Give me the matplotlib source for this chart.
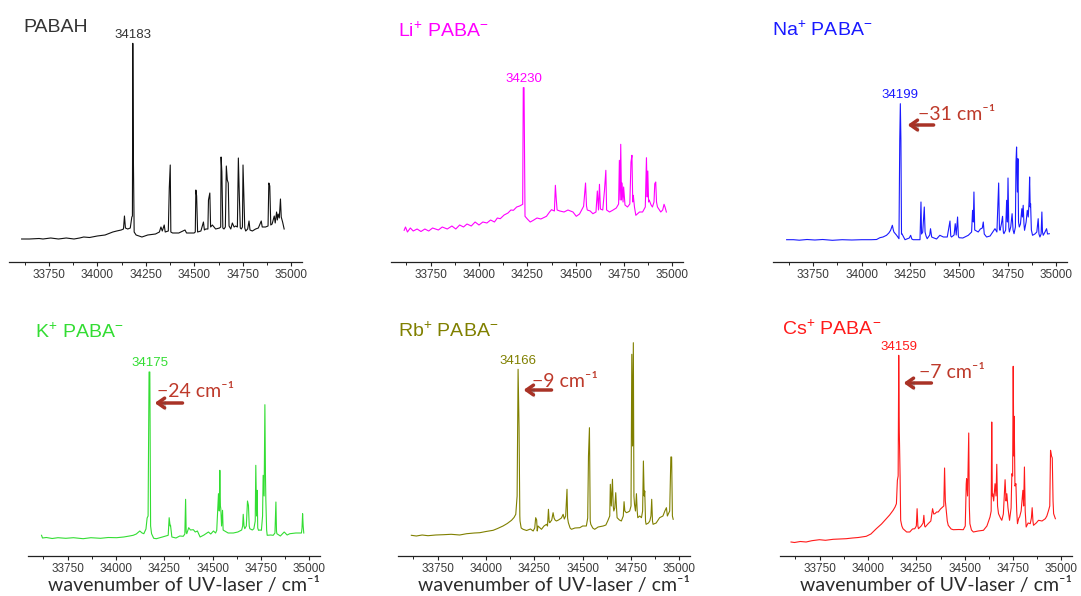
import matplotlib
matplotlib.use('Agg')
import matplotlib.pyplot as plt
import matplotlib.patheffects as pe
import numpy as np

# ---- data: (wavenumber / cm-1, signal a.u.) ----
pabah = [(33610, 23), (33650, 23), (33700, 23.5), (33720, 23), (33760, 24), (33800, 23), (33840, 24),
         (33880, 23), (33909, 24), (33930, 25), (33960, 24.5), (34000, 26), (34040, 27), (34080, 30),
         (34100, 31), (34123, 32), (34135, 33), (34140, 46), (34145, 34), (34157, 33), (34170, 34),
         (34178, 45), (34181, 46), (34183, 218.7), (34186, 105), (34190, 30), (34200, 27), (34230, 25),
         (34260, 27), (34300, 28), (34320, 30), (34328, 35), (34335, 31), (34345, 37), (34350, 30),
         (34366, 31), (34371, 74), (34376, 97), (34379, 30), (34388, 29), (34420, 29), (34452, 32),
         (34460, 29), (34499, 29), (34505, 30), (34508, 72), (34512, 66), (34517, 30), (34534, 31),
         (34547, 40), (34552, 32), (34559, 33), (34570, 33), (34573, 62), (34580, 69), (34584, 35),
         (34593, 37), (34610, 33), (34630, 34), (34636, 35), (34638, 105), (34642, 90), (34647, 34),
         (34653, 33), (34660, 35), (34665, 96), (34670, 82), (34675, 79), (34679, 36), (34688, 33),
         (34696, 39), (34705, 35), (34713, 36), (34722, 35), (34727, 104), (34732, 66), (34737, 34),
         (34742, 33), (34748, 35), (34751, 97), (34756, 62), (34760, 34), (34765, 31), (34775, 33),
         (34782, 41), (34787, 32), (34799, 31), (34816, 33), (34830, 34), (34845, 41), (34850, 35),
         (34867, 35), (34880, 36), (34884, 79), (34889, 76), (34894, 37), (34901, 38), (34912, 46),
         (34917, 39), (34924, 50), (34928, 42), (34932, 48), (34938, 44), (34944, 63), (34948, 45),
         (34955, 40), (34963, 33)]

li_paba = [(33613, 31.7), (33620, 35), (33630, 30), (33645, 34), (33660, 31), (33680, 33), (33700, 30.5),
           (33720, 33), (33740, 31), (33760, 34), (33790, 32), (33810, 35), (33836, 33), (33860, 36),
           (33880, 33), (33900, 37), (33920, 35), (33938, 38), (33960, 36), (33980, 40), (34000, 37),
           (34020, 40), (34041, 39), (34060, 42), (34080, 40), (34095, 44), (34110, 43.3), (34130, 47),
           (34150, 49), (34165, 52), (34178, 51.7), (34195, 55), (34210, 56), (34226, 57.7), (34229, 174.3),
           (34233, 174.3), (34238, 45.7), (34250, 43), (34265, 40), (34281, 41.7), (34300, 44), (34320, 43),
           (34349, 45.7), (34365, 50), (34375, 52.3), (34390, 51), (34395, 76.7), (34400, 61.7), (34404, 52),
           (34418, 51), (34440, 50), (34460, 52), (34486, 50), (34503, 45.7), (34520, 48), (34541, 55.7),
           (34551, 79), (34556, 56), (34560, 52), (34575, 51), (34589, 48.3), (34605, 50), (34612, 71),
           (34618, 52), (34623, 77.7), (34628, 53), (34640, 52), (34649, 71.7), (34656, 91.7), (34660, 52),
           (34675, 50), (34691, 51.7), (34710, 54), (34722, 58), (34726, 101.7), (34730, 62), (34733, 117.7),
           (34737, 62), (34740, 79), (34745, 60), (34748, 75), (34755, 57), (34768, 55), (34780, 58),
           (34786, 100), (34791, 106.7), (34795, 60), (34798, 66.7), (34804, 55), (34811, 46.7), (34830, 50),
           (34846, 50), (34860, 55), (34866, 104.3), (34870, 65), (34873, 91), (34877, 60), (34880, 62),
           (34890, 57), (34897, 55), (34905, 60), (34909, 78.3), (34914, 80), (34918, 60), (34923, 55),
           (34940, 50), (34950, 52), (34957, 57.7), (34962, 55), (34969, 50)]

na_paba = [(33615, 22.3), (33650, 22.3), (33680, 21.8), (33720, 22.5), (33760, 22.0), (33800, 22.5),
           (33850, 21.7), (33900, 22.3), (33950, 22.0), (34000, 22.3), (34050, 22.3), (34077, 22.5),
           (34094, 24.3), (34110, 25), (34128, 26.7), (34140, 29), (34149, 31.7), (34158, 36.7), (34163, 32),
           (34166, 30), (34180, 26.7), (34192, 23.3), (34196, 121.7), (34199, 158.3), (34202, 121.7),
           (34205, 28), (34207, 28.3), (34223, 22.3), (34245, 24), (34252, 26.7), (34258, 23), (34265, 22.3),
           (34300, 22.3), (34305, 60), (34308, 28), (34314, 30), (34322, 55), (34326, 30), (34331, 26),
           (34337, 23.3), (34350, 27), (34354, 33.3), (34360, 25), (34368, 24.3), (34385, 23), (34402, 26.7),
           (34420, 25), (34440, 25), (34454, 41), (34458, 26), (34462, 25), (34475, 27), (34481, 38.3),
           (34486, 27), (34493, 45), (34497, 26), (34500, 24.3), (34520, 24), (34548, 26.7), (34565, 30),
           (34570, 51.7), (34574, 40), (34577, 70), (34581, 32), (34584, 31.7), (34599, 30), (34610, 33),
           (34620, 34), (34625, 40), (34630, 28), (34642, 25), (34660, 26), (34685, 33.3), (34695, 30),
           (34704, 79), (34708, 33), (34711, 31.7), (34718, 38), (34724, 45.7), (34728, 30), (34731, 28.3),
           (34740, 32), (34745, 61.7), (34749, 40), (34752, 84), (34756, 35), (34759, 30), (34766, 35),
           (34773, 48.3), (34778, 32), (34783, 28.3), (34790, 35), (34793, 100), (34796, 115), (34800, 70),
           (34803, 103.3), (34806, 40), (34810, 35), (34816, 38), (34823, 53.3), (34826, 45), (34830, 56.7),
           (34834, 38), (34837, 31.7), (34845, 40), (34851, 51.7), (34856, 45), (34860, 60), (34863, 85),
           (34866, 55), (34868, 58.3), (34872, 32), (34878, 26.7), (34890, 28), (34900, 30), (34907, 43.3),
           (34911, 28), (34916, 25), (34922, 28), (34926, 50), (34929, 30), (34933, 26.7), (34942, 30),
           (34950, 33.3), (34955, 28), (34964, 28.3)]

k_paba = [(33615, 20.7), (33620, 18), (33640, 18.5), (33670, 17.5), (33700, 18.3), (33740, 17.7), (33780, 18.3),
          (33830, 17.3), (33870, 18.3), (33920, 17.7), (33960, 18.5), (34003, 18.3), (34040, 19), (34070, 20),
          (34089, 20.7), (34105, 22), (34123, 25), (34135, 23), (34144, 22.3), (34155, 27), (34161, 38),
          (34166, 40), (34171, 184), (34175, 184), (34179, 30), (34184, 22.3), (34195, 17.7), (34209, 17.3),
          (34240, 19), (34270, 20.7), (34275, 38.3), (34280, 30), (34282, 30.7), (34289, 19), (34310, 18),
          (34330, 20), (34348, 19.7), (34356, 22), (34360, 56.7), (34363, 24), (34366, 22.3), (34376, 28.3),
          (34385, 26), (34400, 26.3), (34410, 24), (34421, 25), (34435, 19), (34455, 21), (34478, 24),
          (34490, 22), (34504, 25), (34515, 23), (34521, 25.7), (34530, 62.3), (34534, 45), (34537, 85.7),
          (34540, 50), (34542, 47.3), (34546, 30), (34551, 45.7), (34554, 26), (34556, 25.7), (34580, 23),
          (34607, 23), (34630, 24), (34650, 26), (34655, 30), (34658, 41.7), (34662, 30), (34666, 27.3),
          (34674, 30), (34680, 55), (34685, 50.7), (34689, 30), (34692, 27.3), (34705, 26), (34713, 27.3),
          (34720, 35), (34723, 90.7), (34727, 40), (34730, 65.7), (34733, 28), (34737, 25.7), (34745, 26),
          (34752, 25.7), (34758, 40), (34761, 80.7), (34766, 60), (34770, 151.3), (34773, 80), (34775, 55.7),
          (34779, 26), (34782, 20.7), (34800, 21), (34813, 20.7), (34822, 23), (34827, 54), (34830, 25),
          (34832, 22.3), (34850, 20), (34870, 24), (34885, 21), (34899, 22.3), (34930, 23), (34959, 23),
          (34962, 28), (34965, 42.3), (34968, 30), (34971, 23)]

rb_paba = [(33614, 20.7), (33640, 20), (33670, 21), (33700, 20.3), (33740, 21), (33780, 21.3), (33820, 21.7),
           (33864, 21), (33900, 22.3), (33940, 23), (33968, 23.3), (34000, 24.5), (34037, 25.7), (34060, 27.5),
           (34088, 30), (34110, 32.5), (34132, 35.7), (34145, 38.5), (34154, 41.7), (34161, 60), (34166, 186.7),
           (34171, 128.3), (34175, 40), (34176, 35), (34182, 28), (34192, 26.7), (34210, 25.5), (34230, 27),
           (34244, 25), (34252, 28), (34257, 38.3), (34262, 36), (34265, 25), (34269, 30), (34287, 26.7),
           (34300, 30), (34313, 31.7), (34318, 30), (34323, 46.7), (34327, 34), (34330, 33.3), (34340, 36),
           (34347, 43.3), (34352, 38), (34357, 36), (34364, 35), (34375, 36), (34390, 38), (34399, 41.7),
           (34405, 37), (34412, 40), (34419, 66.7), (34422, 38), (34426, 33.3), (34435, 28), (34442, 26.7),
           (34460, 28), (34485, 28.3), (34500, 30), (34519, 30), (34526, 38), (34530, 100), (34535, 128.3),
           (34539, 35), (34542, 31.7), (34552, 28), (34562, 26.7), (34580, 29), (34606, 30), (34620, 31),
           (34631, 35.7), (34640, 40), (34643, 71.7), (34648, 50), (34654, 76.7), (34658, 50), (34661, 45),
           (34666, 48), (34671, 63.3), (34675, 48), (34678, 38.3), (34690, 36), (34700, 35), (34710, 40),
           (34714, 54.3), (34718, 45), (34726, 43.3), (34735, 44), (34743, 45), (34750, 50), (34754, 201.7),
           (34758, 110), (34762, 213.3), (34765, 60), (34768, 51.7), (34773, 45), (34778, 62.3), (34782, 45),
           (34785, 38.3), (34795, 40), (34804, 38.3), (34810, 45), (34814, 95), (34818, 60), (34821, 65),
           (34825, 35), (34828, 31.7), (34840, 33), (34847, 35), (34853, 40), (34857, 56.7), (34861, 35),
           (34864, 31.7), (34880, 33), (34898, 38.3), (34915, 40), (34925, 45), (34933, 48.3), (34938, 40),
           (34942, 41.7), (34950, 45), (34956, 99), (34960, 99), (34964, 40), (34968, 36.7)]

cs_paba = [(33602, 14), (33620, 13.5), (33650, 14.5), (33680, 14), (33710, 15.3), (33749, 16.3), (33780, 15.7),
           (33820, 16.7), (33850, 17), (33887, 17.3), (33920, 18), (33950, 18.5), (33991, 19.7), (34015, 22),
           (34043, 27.3), (34070, 32), (34095, 37.3), (34112, 41), (34130, 45.7), (34140, 49), (34147, 52.3),
           (34152, 75.7), (34156, 80), (34159, 200.7), (34162, 124), (34166, 80), (34169, 35.7), (34175, 30),
           (34181, 27.3), (34200, 24), (34216, 24), (34230, 27), (34242, 27.3), (34250, 30), (34254, 47.3),
           (34258, 30), (34261, 27.3), (34275, 30), (34285, 33), (34289, 40.7), (34293, 30), (34296, 29),
           (34311, 32.3), (34325, 35), (34334, 47.3), (34340, 42), (34346, 42.3), (34355, 44), (34363, 44),
           (34375, 47), (34386, 49), (34392, 50), (34396, 88), (34400, 55), (34403, 49), (34410, 35),
           (34415, 30.7), (34430, 27), (34441, 26.3), (34470, 26.5), (34493, 26.3), (34503, 30), (34508, 72),
           (34510, 77.3), (34515, 60), (34521, 123), (34524, 50), (34527, 32.3), (34535, 26), (34545, 24),
           (34570, 25), (34597, 25.7), (34615, 30), (34631, 39), (34637, 45), (34640, 134), (34643, 60),
           (34645, 62.3), (34650, 55), (34657, 72.3), (34662, 60), (34666, 91.7), (34670, 50), (34675, 42.3),
           (34685, 38), (34692, 35.7), (34700, 42), (34709, 76.3), (34714, 55), (34718, 62.3), (34724, 48),
           (34732, 35.7), (34740, 48), (34744, 82.3), (34748, 80), (34751, 189.7), (34754, 100), (34756, 139.7),
           (34760, 70), (34765, 72.3), (34769, 45), (34773, 32.3), (34780, 38), (34784, 39), (34792, 45),
           (34801, 65.7), (34805, 50), (34809, 89), (34813, 45), (34818, 29), (34828, 33), (34839, 32.3),
           (34845, 38), (34849, 48.3), (34853, 35), (34856, 30.7), (34870, 33), (34882, 35.7), (34900, 35),
           (34917, 37.3), (34925, 40), (34934, 45.7), (34940, 50), (34944, 105.7), (34949, 100), (34953, 98),
           (34957, 55), (34960, 42.3), (34969, 37.3)]

titles = ['PABAH', 'Li$^{+}$ PABA$^{-}$', 'Na$^{+}$ PABA$^{-}$',
          'K$^{+}$ PABA$^{-}$', 'Rb$^{+}$ PABA$^{-}$', 'Cs$^{+}$ PABA$^{-}$']
spectra = [pabah, li_paba, na_paba, k_paba, rb_paba, cs_paba]
origins = [34183, 34230, 34199, 34175, 34166, 34159]
shifts = [None, None, -31, -24, -9, -7]
colors = ['#111111', '#ff00ff', '#1a1aff', '#33dd33', '#808000', '#ff1a1a']
title_colors = ['#333333', '#ff00ff', '#1a1aff', '#33dd33', '#808000', '#ff1a1a']
major_ticks = [33750, 34000, 34250, 34500, 34750, 35000]
minor_ticks = [33625, 33875, 34125, 34375, 34625, 34875]

plt.rcParams['font.family'] = ['Liberation Sans', 'DejaVu Sans']
plt.rcParams['mathtext.fontset'] = 'custom'
plt.rcParams['mathtext.rm'] = 'Liberation Sans'
plt.rcParams['mathtext.it'] = 'Liberation Sans:italic'
plt.rcParams['mathtext.bf'] = 'Liberation Sans:bold'

W, H = 1081, 596
fig = plt.figure(figsize=(W / 100, H / 100), dpi=100)

# axes boxes in pixels: left, right, axis-line y
boxes = [(9, 302, 262), (391, 683, 262), (773, 1067, 262),
         (28, 320, 556), (398, 690, 556), (780, 1072, 556)]
ax_h = 240
# title anchor (left px, baseline px)
title_pos = [(23, 32), (398, 37), (772, 36), (35, 338), (398, 337), (782, 335)]
# annotation placement in data coords: text (wn, a.u.), arrow tail/head (wn), arrow level
ann = {2: (34290, 142, 34370, 34236, 137),
       3: (34213, 159, 34344, 34200, 153),
       4: (34239, 169, 34339, 34194, 166),
       5: (34265, 178, 34328, 34184, 173)}

red = '#be3a2b'
for i, (l, r, yb) in enumerate(boxes):
    ax = fig.add_axes([l / W, 1 - yb / H, (r - l) / W, ax_h / H])
    wn = [p[0] for p in spectra[i]]
    sig = [p[1] for p in spectra[i]]
    ax.plot(wn, sig, color=colors[i], lw=0.8)
    ax.set_xlim(33545, 35055)
    ax.set_ylim(0, ax_h)
    for s in ['left', 'right', 'top']:
        ax.spines[s].set_visible(False)
    ax.spines['bottom'].set_color('#222222')
    ax.spines['bottom'].set_linewidth(0.9)
    ax.set_yticks([])
    ax.set_xticks(major_ticks)
    ax.set_xticks(minor_ticks, minor=True)
    ax.tick_params(axis='x', which='major', length=3, width=0.8, color='#222222',
                   labelsize=8.5, labelcolor='#3a3a3a', pad=2)
    ax.tick_params(axis='x', which='minor', length=2, width=0.7, color='#222222')
    ax.patch.set_alpha(0)

    # origin band label
    top = max(s for w, s in spectra[i] if abs(w - origins[i]) < 6)
    ax.annotate(str(origins[i]), xy=(origins[i], top),
                xytext=(0, 4), textcoords='offset points', ha='center', va='baseline',
                fontsize=9.5, color=colors[i] if i else '#333333')

    tx, ty = title_pos[i]
    fig.text(tx / W, 1 - ty / H, titles[i], fontsize=14, color=title_colors[i], va='baseline', ha='left')

    if shifts[i] is not None:
        xt, yt, x0, x1, ya = ann[i]
        ax.text(xt, yt, '\u2212%d cm\u207b\u00b9' % abs(shifts[i]), fontsize=14, color=red,
                family=['Lato', 'DejaVu Sans'], va='baseline', ha='left')
        ax.annotate('', xy=(x1, ya), xytext=(x0, ya),
                    arrowprops=dict(arrowstyle='->,head_length=0.5,head_width=0.35', color='#a93226', lw=2.5,
                                    shrinkA=0, shrinkB=0,
                                    path_effects=[pe.SimplePatchShadow(offset=(1, -2), alpha=0.25), pe.Normal()]))

    if i >= 3:
        ax.text(0.535, -35 / ax_h, 'wavenumber of UV-laser / cm\u207b\u00b9', transform=ax.transAxes,
                ha='center', va='baseline', fontsize=14, color='#2b2b2b', family=['Lato', 'DejaVu Sans'])

fig.savefig('out.png', dpi=100)
